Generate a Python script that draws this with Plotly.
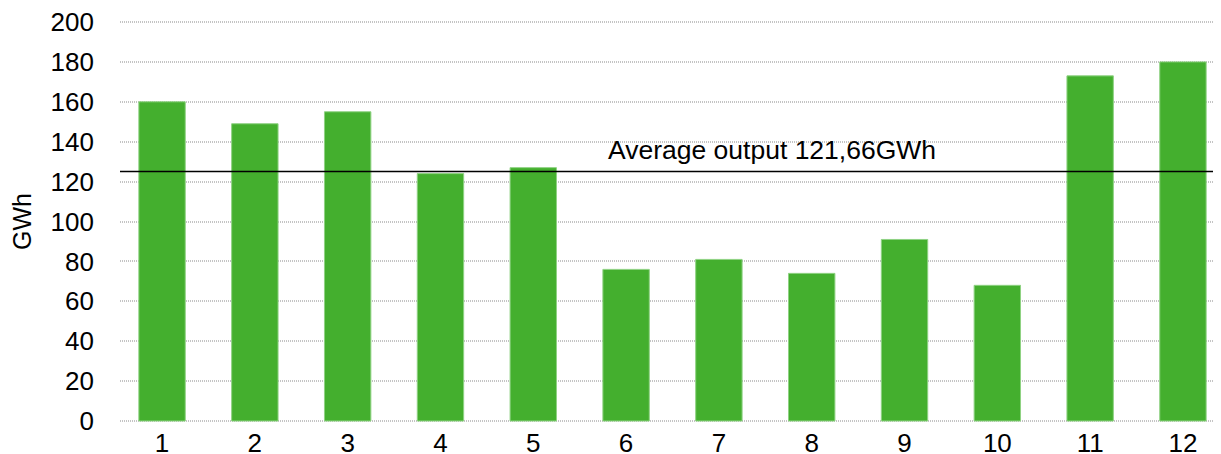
import plotly.graph_objects as go

months = ["1", "2", "3", "4", "5", "6", "7", "8", "9", "10", "11", "12"]
output_gwh = [160, 149, 155, 124, 127, 76, 81, 74, 91, 68, 173, 180]
avg_line_value = 125
avg_label = "Average output 121,66GWh"
y_ticks = [0, 20, 40, 60, 80, 100, 120, 140, 160, 180, 200]

font_family = "Liberation Sans, Arial, sans-serif"

fig = go.Figure()
fig.add_trace(go.Bar(
    x=months, y=output_gwh,
    marker=dict(color="#44af2e", line=dict(color="#8fd283", width=1)),
    width=0.5,
))

fig.add_shape(type="line", xref="paper", yref="y", x0=0, x1=1,
              y0=avg_line_value, y1=avg_line_value,
              line=dict(color="black", width=1.5))

fig.add_annotation(xref="paper", yref="y", x=0.592, y=avg_line_value,
                   yanchor="bottom", yshift=5, showarrow=False,
                   text=avg_label, font=dict(size=26.5, color="black", family=font_family))

fig.update_layout(
    width=1213, height=446,
    margin=dict(l=112, r=0, t=12, b=31),
    plot_bgcolor="white", paper_bgcolor="white",
    showlegend=False,
    font=dict(family=font_family, size=26, color="black"),
    xaxis=dict(type="category", range=[-0.453, 11.41], showgrid=False,
               showline=False, ticks="", tickfont=dict(size=26),
               ticklabelstandoff=2, automargin=False),
    yaxis=dict(range=[-1, 201], tickvals=y_ticks, showgrid=True,
               gridcolor="#c4c4c4", gridwidth=2, griddash="1px,1px",
               zeroline=False, showline=False, ticks="",
               tickfont=dict(size=26), ticklabelstandoff=25,
               ticklabeloverflow="allow", automargin=False,
               title=dict(text="GWh", font=dict(size=25), standoff=12)),
)

fig.write_html("out.html")
